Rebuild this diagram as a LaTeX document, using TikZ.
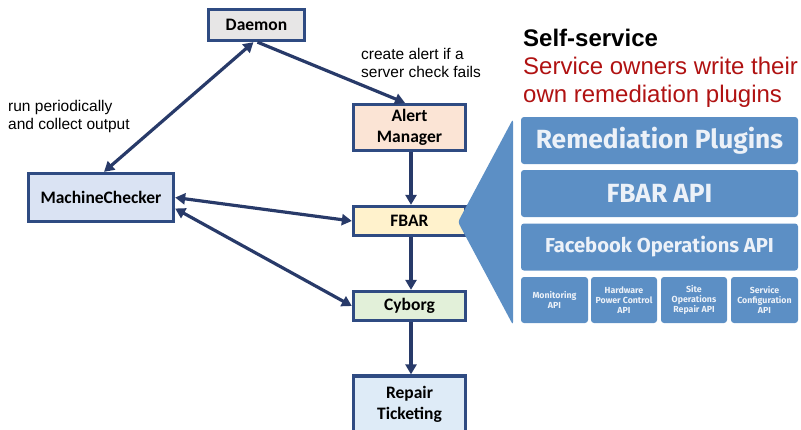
\documentclass[tikz,border=0pt]{standalone}
\usepackage{fontspec}
\setmainfont{Liberation Sans}
\newfontfamily\boxfont{Carlito}
\newfontfamily\panelfont{Fira Sans}
\usetikzlibrary{arrows.meta}
\definecolor{boxborder}{RGB}{47,75,130}
\definecolor{arrowcol}{RGB}{40,58,105}
\definecolor{daemonfill}{RGB}{231,230,230}
\definecolor{alertfill}{RGB}{251,228,213}
\definecolor{mcfill}{RGB}{218,227,243}
\definecolor{fbarfill}{RGB}{255,242,204}
\definecolor{cyborgfill}{RGB}{226,240,217}
\definecolor{repairfill}{RGB}{222,235,247}
\definecolor{panelblue}{RGB}{92,143,197}
\definecolor{paneltext}{RGB}{236,241,248}
\definecolor{darkred}{RGB}{176,18,18}
\tikzset{
  flowbox/.style={draw=boxborder, line width=3.3pt, inner sep=0pt, align=center,
    font=\boxfont\bfseries\fontsize{17.5}{21}\selectfont, text=black},
  conn/.style={draw=arrowcol, line width=3.2pt},
  tipA/.style={-{Triangle[length=10pt,width=11pt]}},
  tipB/.style={{Triangle[length=10pt,width=11pt]}-{Triangle[length=10pt,width=11pt]}},
  note/.style={anchor=base west, inner sep=0pt, font=\fontsize{15.5}{18}\selectfont},
  bigblock/.style={fill=panelblue, rounded corners=3pt, inner sep=0pt, text=paneltext,
    minimum width=277pt, minimum height=47pt},
  smallblock/.style={fill=panelblue, rounded corners=3pt, inner sep=0pt, text=paneltext,
    minimum height=46pt, align=center, font=\panelfont\bfseries\fontsize{8.8}{9.8}\selectfont},
}
\begin{document}
\begin{tikzpicture}[x=1pt,y=-1pt]
\useasboundingbox (0,0) rectangle (801,429);
% flow boxes
\node[flowbox, fill=daemonfill, minimum width=96pt, minimum height=31pt] (daemon) at (256.5,25) {Daemon};
\node[flowbox, fill=alertfill, minimum width=112pt, minimum height=46pt] (alert) at (409.5,127.5) {Alert\\Manager};
\node[flowbox, fill=mcfill, minimum width=145pt, minimum height=48pt] (mc) at (101,197.5) {MachineChecker};
\node[flowbox, fill=fbarfill, minimum width=112pt, minimum height=29pt] (fbar) at (409.5,221) {FBAR};
\node[flowbox, fill=cyborgfill, minimum width=112pt, minimum height=29pt] (cyborg) at (409.5,306) {Cyborg};
\node[flowbox, fill=repairfill, minimum width=112pt, minimum height=57pt] (repair) at (409.5,404.5) {Repair\\Ticketing};
% connectors
\draw[conn, tipB] ([xshift=-3pt]daemon.south) -- ([xshift=3pt]mc.north);
\draw[conn, tipA] ([xshift=1pt]daemon.south) -- ([xshift=-4.5pt]alert.north);
\draw[conn, tipA] ([xshift=1.5pt]alert.south) -- ([xshift=1.5pt]fbar.north);
\draw[conn, tipB] (mc.east) -- (fbar.west);
\draw[conn, tipB] ([yshift=-11pt]mc.east) -- (cyborg.west);
\draw[conn, tipA] ([xshift=1.5pt]fbar.south) -- ([xshift=1.5pt]cyborg.north);
\draw[conn, tipA] ([xshift=1.5pt]cyborg.south) -- ([xshift=1.5pt]repair.north);
% notes
\node[note] (n1) at (8,111.5) {run periodically};
\node[note] (n2) at (8,129) {and collect output};
\node[note] (n3) at (361,59.5) {create alert if a};
\node[note] (n4) at (361,77.5) {server check fails};
\node[anchor=base west, inner sep=0pt, font=\bfseries\fontsize{24}{28}\selectfont] (t1) at (523,46) {Self-service};
\node[anchor=base west, inner sep=0pt, font=\fontsize{24}{28}\selectfont, text=darkred] (t2) at (523,74) {Service owners write their};
\node[anchor=base west, inner sep=0pt, font=\fontsize{24}{28}\selectfont, text=darkred] (t3) at (523,102) {own remediation plugins};
% zoom triangle
\fill[panelblue, rounded corners=3pt] (458,222) -- (513,119) -- (513,325) -- cycle;
% panel
\node[bigblock, font=\panelfont\bfseries\fontsize{26.3}{28}\selectfont] (plugins) at (659.5,140.5) {Remediation Plugins};
\node[bigblock, font=\panelfont\bfseries\fontsize{26.3}{28}\selectfont] (fbarapi) at (659.5,193.5) {FBAR API};
\node[bigblock, font=\panelfont\bfseries\fontsize{20.2}{24}\selectfont] (fbops) at (659.5,247) {Facebook Operations API};
\node[smallblock, minimum width=67pt] (mon) at (554.5,300) {Monitoring\\API};
\node[smallblock, minimum width=66pt] (hw) at (624,300) {Hardware\\Power Control\\API};
\node[smallblock, minimum width=66pt] (site) at (694,300) {Site\\Operations\\Repair API};
\node[smallblock, minimum width=67pt] (svc) at (764.5,300) {Service\\Configuration\\API};
\end{tikzpicture}
\end{document}
